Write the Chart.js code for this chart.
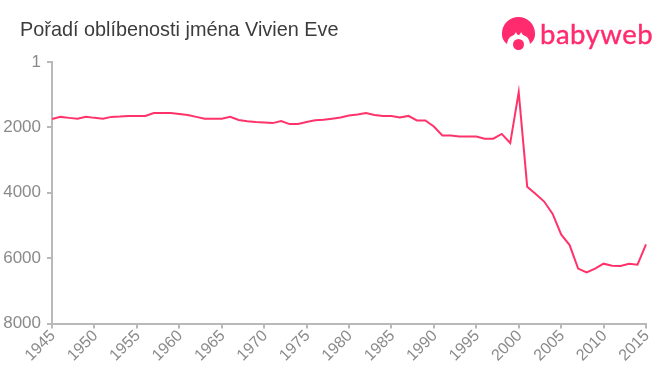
<!DOCTYPE html>
<html><head><meta charset="utf-8">
<script src="https://cdn.jsdelivr.net/npm/chart.js@4"></script>
<style>
html,body{margin:0;padding:0;background:#fff;width:660px;height:375px;overflow:hidden}
#wrap{position:relative;width:660px;height:375px}
canvas{position:absolute;left:0;top:0}
#title{position:absolute;left:20px;top:18px;font:19.85px "Liberation Sans",Arial,sans-serif;color:#3c3c3c;white-space:nowrap}
#logo{position:absolute;left:495px;top:10px}
#brand{position:absolute;left:540px;top:17px;font:27.5px Lato,sans-serif;color:#ff2b6e;-webkit-text-stroke:.4px #ff2b6e;white-space:nowrap;letter-spacing:.5px}
</style></head><body>
<div id="wrap">
<canvas id="c" width="660" height="375"></canvas>
<div id="title">Pořadí oblíbenosti jména Vivien Eve</div>
<svg id="logo" width="48" height="48" viewBox="0 0 48 48">
<path fill="#ff2b6e" d="M12 34 C7 30 7 26 7 23.5 C7 14 14.5 7 23.5 7 C32.5 7 40 14 40 23.5 C40 26 40 30 35 34 C34.5 30 33 27 30 26 C28 25 27 24 26 22 C25.5 24 24.5 25 23.5 25 C22.5 25 21.5 24 21 22 C20 24 19 25 17 26 C14 27 12.5 30 12 34 Z"/>
<circle fill="#ff2b6e" cx="23.5" cy="34.5" r="5.5"/>
</svg>
<div id="brand">babyweb</div>
</div>
<script>
const years = [1945,1946,1947,1948,1949,1950,1951,1952,1953,1954,1955,1956,1957,1958,1959,1960,1961,1962,1963,1964,1965,1966,1967,1968,1969,1970,1971,1972,1973,1974,1975,1976,1977,1978,1979,1980,1981,1982,1983,1984,1985,1986,1987,1988,1989,1990,1991,1992,1993,1994,1995,1996,1997,1998,1999,2000,2001,2002,2003,2004,2005,2006,2007,2008,2009,2010,2011,2012,2013,2014,2015];
const ranks = [1745,1680,1710,1735,1675,1710,1735,1680,1670,1650,1650,1650,1560,1560,1560,1590,1620,1680,1735,1735,1735,1680,1775,1815,1840,1850,1870,1810,1900,1900,1835,1780,1770,1735,1700,1640,1610,1560,1620,1650,1650,1700,1650,1790,1790,1975,2250,2250,2280,2280,2280,2345,2345,2200,2480,920,3815,4040,4270,4650,5275,5600,6320,6440,6320,6170,6230,6240,6170,6200,5580];
const yTicks = [1,2000,4000,6000,8000];
const axisColor = '#b9b9b9', labelColor = '#8a8a8a', lineColor = '#ff3369';
const yFont = {family:'"Liberation Sans",Arial,sans-serif', size:17};
const xFont = {family:'"Liberation Sans",Arial,sans-serif', size:16};
new Chart(document.getElementById('c'),{
  type:'line',
  data:{datasets:[{data:years.map((y,i)=>({x:y,y:ranks[i]})),borderColor:lineColor,borderWidth:2,pointRadius:0,tension:0,fill:false,clip:false}]},
  options:{
    responsive:false,animation:false,
    layout:{padding:{top:62,right:14,left:0,bottom:0}},
    plugins:{legend:{display:false},tooltip:{enabled:false},title:{display:false}},
    scales:{
      x:{type:'linear',min:1945,max:2015,
        afterFit:s=>{s.height=51.5},
        afterBuildTicks:s=>{s.ticks=years.filter(y=>y%5===0).map(v=>({value:v}))},
        border:{color:axisColor,width:2},
        grid:{drawOnChartArea:false,color:axisColor,lineWidth:2,tickLength:5},
        ticks:{color:labelColor,font:xFont,minRotation:45,maxRotation:45,padding:-2,labelOffset:1,autoSkip:false,callback:v=>String(v)}},
      y:{type:'linear',reverse:true,min:1,max:8000,
        afterFit:s=>{s.width=52},
        afterBuildTicks:s=>{s.ticks=yTicks.map(v=>({value:v}))},
        border:{color:axisColor,width:2},
        grid:{drawOnChartArea:false,color:axisColor,lineWidth:2,tickLength:5},
        ticks:{color:labelColor,font:yFont,padding:6,autoSkip:false,callback:v=>String(v)}}
    }
  }
});
</script>
</body></html>
